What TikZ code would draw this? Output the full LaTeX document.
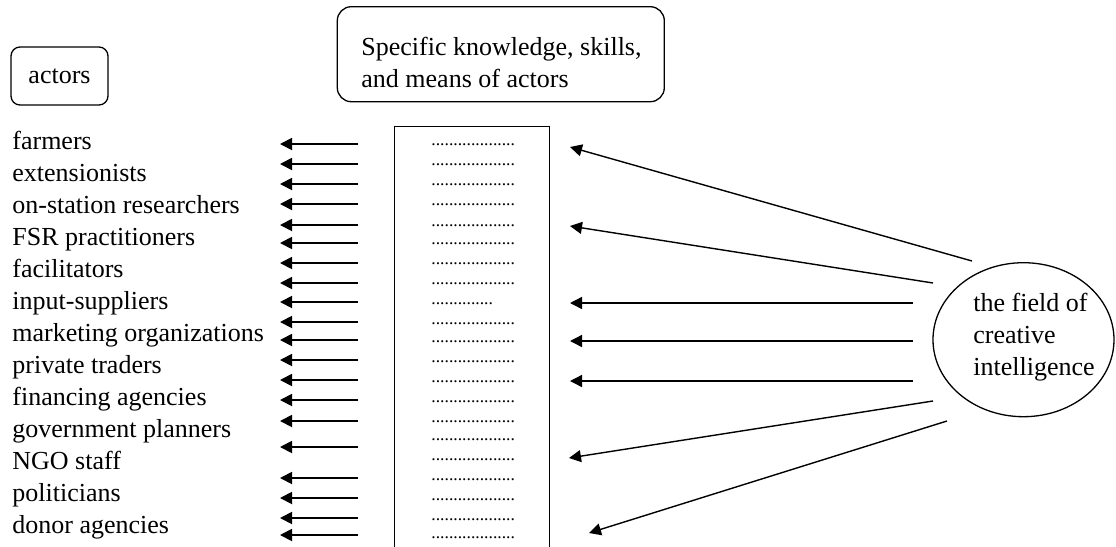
\documentclass[tikz,border=0pt]{standalone}
\usepackage{fontspec}
\setmainfont{Liberation Serif}
\usetikzlibrary{arrows.meta,shapes.geometric}

\newcommand{\rowdots}{...................}
\newcommand{\shortdots}{..............}

\begin{document}
\begin{tikzpicture}[x=0.5pt, y=-0.5pt, font=\fontsize{13pt}{16pt}\selectfont,
                    round box/.style={draw,line width=0.65pt,rounded corners=#1,inner sep=0pt},
                    actor node/.style={anchor=base west,inner sep=0pt},
                    dot node/.style={anchor=base west,inner sep=0pt,font=\fontsize{8.8pt}{10pt}\selectfont},
                    short arrow/.style={line width=0.9pt,-{Triangle[length=6pt,width=6pt]}},
                    long arrow/.style={line width=0.7pt,-{Triangle[length=6pt,width=6pt]}}]

  \useasboundingbox (0,0) rectangle (1116,547);

  % headings
  \node[round box=4.5pt, minimum width=48.5pt, minimum height=29pt] (actors) at (59.5,76) {actors};
  \node[round box=7pt, minimum width=163.5pt, minimum height=47.5pt] (means) at (500.8,54.2) {};
  \node[anchor=north west, inner sep=0pt, align=left] (meanstext) at (361,37.2)
       {Specific knowledge, skills,\\and means of actors};

  % actors
  \node[actor node] (a1) at (12,149) {farmers};
  \node[actor node] (a2) at ([yshift=-16pt]a1.base west) {extensionists};
  \node[actor node] (a3) at ([yshift=-16pt]a2.base west) {on-station researchers};
  \node[actor node] (a4) at ([yshift=-16pt]a3.base west) {FSR practitioners};
  \node[actor node] (a5) at ([yshift=-16pt]a4.base west) {facilitators};
  \node[actor node] (a6) at ([yshift=-16pt]a5.base west) {input-suppliers};
  \node[actor node] (a7) at ([yshift=-16pt]a6.base west) {marketing organizations};
  \node[actor node] (a8) at ([yshift=-16pt]a7.base west) {private traders};
  \node[actor node] (a9) at ([yshift=-16pt]a8.base west) {financing agencies};
  \node[actor node] (a10) at ([yshift=-16pt]a9.base west) {government planners};
  \node[actor node] (a11) at ([yshift=-16pt]a10.base west) {NGO staff};
  \node[actor node] (a12) at ([yshift=-16pt]a11.base west) {politicians};
  \node[actor node] (a13) at ([yshift=-16pt]a12.base west) {donor agencies};

  % column of knowledge
  \node[minimum width=77pt, minimum height=210pt, inner sep=0pt] (col) at (472,337) {};
  \draw[line width=0.75pt] (col.south west) -- (col.north west) -- (col.north east) -- (col.south east);

  \node[dot node] (d1) at (431,145) {\rowdots};
  \node[dot node] (d2) at (431,165) {\rowdots};
  \node[dot node] (d3) at (431,185) {\rowdots};
  \node[dot node] (d4) at (431,205) {\rowdots};
  \node[dot node] (d5) at (431,226) {\rowdots};
  \node[dot node] (d6) at (431,244) {\rowdots};
  \node[dot node] (d7) at (431,264) {\rowdots};
  \node[dot node] (d8) at (431,284) {\rowdots};
  \node[dot node] (d9) at (431,304) {\shortdots};
  \node[dot node] (d10) at (431,324) {\rowdots};
  \node[dot node] (d11) at (431,342) {\rowdots};
  \node[dot node] (d12) at (431,362) {\rowdots};
  \node[dot node] (d13) at (431,382) {\rowdots};
  \node[dot node] (d14) at (431,402) {\rowdots};
  \node[dot node] (d15) at (431,422) {\rowdots};
  \node[dot node] (d16) at (431,440) {\rowdots};
  \node[dot node] (d17) at (431,460) {\rowdots};
  \node[dot node] (d18) at (431,480) {\rowdots};
  \node[dot node] (d19) at (431,500) {\rowdots};
  \node[dot node] (d20) at (431,520) {\rowdots};
  \node[dot node] (d21) at (431,538) {\rowdots};

  % short arrows towards the actors
  \coordinate (tip) at (280,0);
  \coordinate (r1) at (358,144);  \coordinate (r2) at (358,164);
  \coordinate (r3) at (358,184);  \coordinate (r4) at (358,204);
  \coordinate (r5) at (358,225);  \coordinate (r6) at (358,243);
  \coordinate (r7) at (358,263);  \coordinate (r8) at (358,283);
  \coordinate (r9) at (358,302);  \coordinate (r10) at (358,322);
  \coordinate (r11) at (358,340); \coordinate (r12) at (358,360);
  \coordinate (r13) at (358,380); \coordinate (r14) at (358,400);
  \coordinate (r15) at (358,421); \coordinate (r16) at (358,447);
  \coordinate (r17) at (358,478); \coordinate (r18) at (358,498);
  \coordinate (r19) at (358,518); \coordinate (r20) at (358,535);

  \path[short arrow]
    (r1) edge (r1 -| tip)   (r2) edge (r2 -| tip)   (r3) edge (r3 -| tip)
    (r4) edge (r4 -| tip)   (r5) edge (r5 -| tip)   (r6) edge (r6 -| tip)
    (r7) edge (r7 -| tip)   (r8) edge (r8 -| tip)   (r9) edge (r9 -| tip)
    (r10) edge (r10 -| tip) (r11) edge (r11 -| tip) (r12) edge (r12 -| tip)
    (r13) edge (r13 -| tip) (r14) edge (r14 -| tip) (r15) edge (r15 -| tip)
    (r16) edge (r16 -| tip) (r17) edge (r17 -| tip) (r18) edge (r18 -| tip)
    (r19) edge (r19 -| tip) (r20) edge (r20 -| tip);

  % the field of creative intelligence
  \node[ellipse, draw, line width=0.65pt, minimum width=90.5pt, minimum height=77pt, inner sep=0pt]
       (field) at (1023.5,339.7) {};
  \node[anchor=north west, inner sep=0pt, align=left] (fieldtext) at (973,293.2)
       {the field of\\creative\\intelligence};

  \coordinate (s1) at (972,261); \coordinate (e1) at (570,147);
  \coordinate (s2) at (933,283); \coordinate (e2) at (570,226);
  \coordinate (s3) at (913,303); \coordinate (e3) at (570,303);
  \coordinate (s4) at (913,341); \coordinate (e4) at (570,341);
  \coordinate (s5) at (913,381); \coordinate (e5) at (570,381);
  \coordinate (s6) at (933,401); \coordinate (e6) at (569,458);
  \coordinate (s7) at (947,421); \coordinate (e7) at (589,533);

  \path[long arrow]
    (s1) edge (e1)
    (s2) edge (e2)
    (s3) edge (e3)
    (s4) edge (e4)
    (s5) edge (e5)
    (s6) edge (e6)
    (s7) edge (e7);
\end{tikzpicture}
\end{document}
